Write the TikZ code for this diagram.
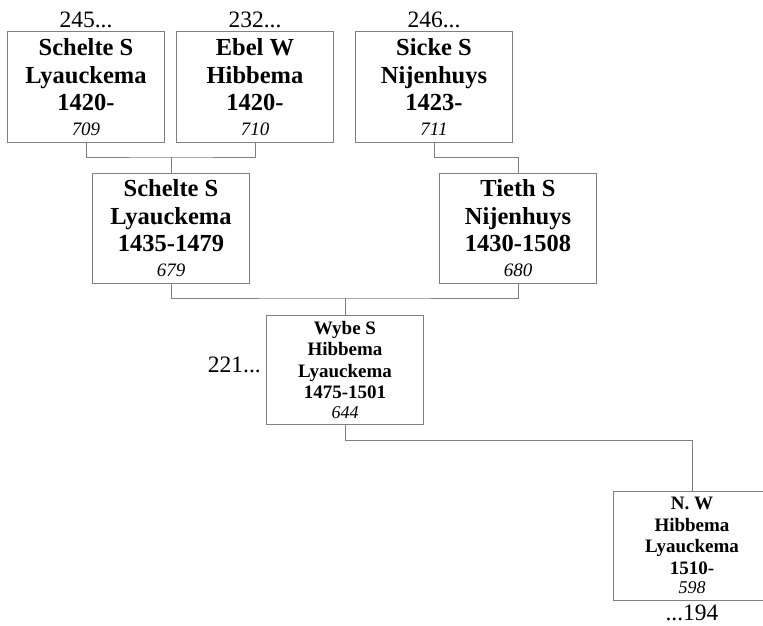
\documentclass[tikz,border=0pt]{standalone}
\usepackage{fontspec}
\setmainfont{Liberation Serif}
\definecolor{lc}{RGB}{128,128,128}
\begin{document}
\begin{tikzpicture}[x=1pt,y=-1pt,
  big/.style={draw=lc, line width=1pt, fill=white, minimum width=157pt, minimum height=110pt,
    inner sep=0pt, align=center, font=\fontsize{24.5}{27.5}\selectfont\bfseries},
  small/.style={draw=lc, line width=1pt, fill=white, minimum width=157pt, minimum height=109pt,
    inner sep=0pt, align=center, font=\fontsize{19}{21.5}\selectfont\bfseries},
  conn/.style={draw=lc, line width=1pt},
  ref/.style={inner sep=0pt, font=\fontsize{23.5}{26}\selectfont}
]
\useasboundingbox (0,0) rectangle (763,626);

\node[big] (b1) at (86,87) {Schelte S\\Lyauckema\\1420-\\[-3pt]{\fontsize{19}{23}\selectfont\mdseries\itshape 709}};
\node[big] (b2) at (255,87) {Ebel W\\Hibbema\\1420-\\[-3pt]{\fontsize{19}{23}\selectfont\mdseries\itshape 710}};
\node[big] (b3) at (434,87) {Sicke S\\Nijenhuys\\1423-\\[-3pt]{\fontsize{19}{23}\selectfont\mdseries\itshape 711}};
\node[big] (b4) at (171,228) {Schelte S\\Lyauckema\\1435-1479\\[-3pt]{\fontsize{19}{23}\selectfont\mdseries\itshape 679}};
\node[big] (b5) at (518,228) {Tieth S\\Nijenhuys\\1430-1508\\[-3pt]{\fontsize{19}{23}\selectfont\mdseries\itshape 680}};
\node[small] (b6) at (345,369.5) {Wybe S\\Hibbema\\Lyauckema\\1475-1501\\[-2pt]{\fontsize{18}{21}\selectfont\mdseries\itshape 644}};
\node[small] (b7) at (692,545.5) {N. W\\Hibbema\\Lyauckema\\1510-\\[-2pt]{\fontsize{18}{21}\selectfont\mdseries\itshape 598}};

\node[ref, anchor=base] (r1) at ([yshift=4pt]b1.north) {245...};
\node[ref, anchor=base] (r2) at ([yshift=4pt]b2.north) {232...};
\node[ref, anchor=base] (r3) at ([yshift=4pt]b3.north) {246...};
\node[ref, anchor=east] (r6) at ([xshift=-5pt,yshift=5pt]b6.west) {221...};
\node[ref, anchor=base] (r7) at ([yshift=-20pt]b7.south) {...194};

\coordinate (j1) at (171,157);
\coordinate (j2) at (345,298);
\draw[conn] (b1.south) |- (j1) -| (b2.south);
\draw[conn] (j1) -- (b4.north);
\draw[conn] (b3.south) |- (b5.north |- j1) -- (b5.north);
\draw[conn] (b4.south) |- (j2) -| (b5.south);
\draw[conn] (j2) -- (b6.north);
\draw[conn] (b6.south) |- (b7.north |- 0,440) -- (b7.north);
\end{tikzpicture}
\end{document}
